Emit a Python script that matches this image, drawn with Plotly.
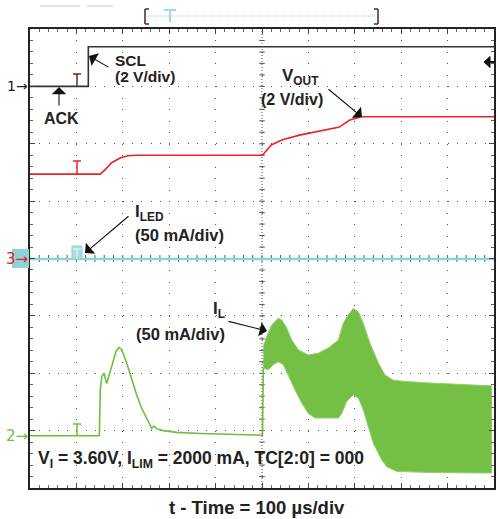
import plotly.graph_objects as go

# ---- data (time in µs, 100 µs/div; vertical in screen divisions) ----
scl_t = [0, 125.7, 125.7, 1000]
scl_v = [3.0, 3.0, 3.69, 3.69]

vout_t = [0, 151, 161, 176, 194, 211, 230, 501, 520, 544, 581, 617, 667, 688, 714, 1000]
vout_v = [1.47, 1.47, 1.54, 1.67, 1.75, 1.79, 1.80, 1.80, 1.98, 2.07, 2.15, 2.21, 2.29, 2.41, 2.47, 2.47]

iled_t = [0, 1000]
iled_v = [-0.01, -0.01]

il_t = [0, 149.4, 151.5, 154.5, 159.5, 165.3, 176.1, 185.3, 191.8, 197.6, 208.4, 219.2, 230.0,
        240.7, 251.5, 262.3, 267.2, 273.1, 287.3, 316.2, 366.4, 437.5, 501.1, 502.8]
il_v = [-3.09, -3.09, -2.29, -2.06, -2.00, -2.18, -1.88, -1.62, -1.55, -1.59, -1.82, -2.12, -2.38,
        -2.61, -2.78, -2.96, -2.92, -2.97, -3.00, -3.03, -3.05, -3.07, -3.08, -1.91]

band_hi_t = [502.8, 510.1, 520.9, 535.1, 542.5, 553.2, 564.0, 578.2, 599.8, 621.3, 642.9, 664.5, 675.2,
             686.0, 696.8, 707.6, 718.3, 732.8, 750.7, 765.1, 783.0, 804.5, 862.1, 933.9, 995.0]
band_hi_v = [-1.535, -1.36, -1.16, -1.04, -1.07, -1.21, -1.42, -1.59, -1.68, -1.65, -1.56, -1.42, -1.13,
             -0.98, -0.87, -0.93, -1.13, -1.48, -1.82, -2.03, -2.12, -2.14, -2.17, -2.20, -2.22]
band_lo_t = [502.8, 513.6, 524.4, 535.1, 545.9, 556.7, 571.1, 585.6, 599.8, 614.2, 635.8, 664.5, 671.8,
             682.6, 696.8, 707.6, 718.3, 729.1, 739.9, 758.0, 768.8, 790.3, 862.1, 933.9, 995.0]
band_lo_v = [-1.91, -1.94, -1.85, -1.80, -1.85, -2.03, -2.29, -2.52, -2.70, -2.78, -2.78, -2.78, -2.70,
             -2.49, -2.38, -2.43, -2.64, -2.93, -3.22, -3.51, -3.63, -3.71, -3.73, -3.74, -3.74]

# ---- layout helpers (pixel -> paper) ----
W, H = 498, 519
L, R, T, B = 30, 4, 29, 31
PW, PH = W - L - R, H - T - B


def PX(x):
    return (x - L) / PW


def PY(y):
    return 1 - (y - T) / PH


FONT = "Liberation Sans, Arial, sans-serif"
GREEN = "#6cbf3c"
RED = "#e8232b"
CYAN = "#8fd3d6"

fig = go.Figure()
fig.add_trace(go.Scatter(x=scl_t, y=scl_v, mode="lines", line=dict(color="#333333", width=1.6),
                         hoverinfo="skip"))
fig.add_trace(go.Scatter(x=vout_t, y=vout_v, mode="lines", line=dict(color=RED, width=1.6),
                         hoverinfo="skip"))
fig.add_trace(go.Scatter(x=iled_t, y=iled_v, mode="lines", line=dict(color=CYAN, width=2.5),
                         hoverinfo="skip"))
fig.add_trace(go.Scatter(x=band_hi_t + band_lo_t[::-1], y=band_hi_v + band_lo_v[::-1], mode="lines",
                         fill="toself", fillcolor="#74c045", line=dict(color="#93cf6c", width=1),
                         hoverinfo="skip"))
fig.add_trace(go.Scatter(x=il_t, y=il_v, mode="lines", line=dict(color=GREEN, width=1.6),
                         hoverinfo="skip"))

shapes = []
# center cross (dotted) with ticks
shapes.append(dict(type="line", xref="x", yref="y", x0=500, x1=500, y0=-4, y1=4,
                   line=dict(color="#555", width=1, dash="1px,2px"), layer="below"))
shapes.append(dict(type="line", xref="x", yref="y", x0=0, x1=1000, y0=0, y1=0,
                   line=dict(color="#555", width=1, dash="1px,2px"), layer="below"))
for k in range(1, 50):
    tx = k * 20
    shapes.append(dict(type="line", xref="x", yref="y", x0=tx, x1=tx, y0=-0.06, y1=0.06,
                       line=dict(color="#555", width=1), layer="below"))
for k in range(1, 40):
    ty = -4 + k * 0.2
    shapes.append(dict(type="line", xref="x", yref="y", x0=494, x1=506, y0=ty, y1=ty,
                       line=dict(color="#555", width=1), layer="below"))


def tmark(x, ytop, ybot, color, w=1.5):
    shapes.append(dict(type="line", xref="paper", yref="paper", x0=PX(x), x1=PX(x),
                       y0=PY(ytop), y1=PY(ybot), line=dict(color=color, width=w)))
    shapes.append(dict(type="line", xref="paper", yref="paper", x0=PX(x - 4), x1=PX(x + 4),
                       y0=PY(ytop), y1=PY(ytop), line=dict(color=color, width=w)))


tmark(77, 74, 86, "#6a2a2a")
tmark(77, 161, 174, RED)
tmark(77, 424, 436, GREEN)
# ILED trigger box
shapes.append(dict(type="rect", xref="paper", yref="paper", x0=PX(72), x1=PX(82), y0=PY(259), y1=PY(246),
                   fillcolor="#a8dde0", line=dict(color="#8fd0d3", width=1)))
tmark(77, 249, 258, "#e8f7f8", 1.2)

# channel 3 marker box
shapes.append(dict(type="rect", xref="paper", yref="paper", x0=PX(12), x1=PX(29), y0=PY(268), y1=PY(249),
                   fillcolor=CYAN, line=dict(width=0)))

# top bracket
shapes.append(dict(type="line", xref="paper", yref="paper", x0=PX(148), x1=PX(376), y0=PY(16), y1=PY(16),
                   line=dict(color="#8fd3d6", width=1.2, dash="1px,1px")))
for (xa, xb) in [(145, 149), (378, 374)]:
    shapes.append(dict(type="line", xref="paper", yref="paper", x0=PX(xa), x1=PX(xa), y0=PY(9), y1=PY(24),
                       line=dict(color="#333", width=1.5)))
    shapes.append(dict(type="line", xref="paper", yref="paper", x0=PX(xa), x1=PX(xb), y0=PY(9), y1=PY(9),
                       line=dict(color="#333", width=1.5)))
    shapes.append(dict(type="line", xref="paper", yref="paper", x0=PX(xa), x1=PX(xb), y0=PY(24), y1=PY(24),
                       line=dict(color="#333", width=1.5)))
    shapes.append(dict(type="line", xref="paper", yref="paper", x0=PX(xa), x1=PX(xa), y0=PY(20), y1=PY(24),
                       line=dict(color="#c0303a", width=1.5)))
shapes.append(dict(type="line", xref="paper", yref="paper", x0=PX(170), x1=PX(170), y0=PY(10), y1=PY(22),
                   line=dict(color="#9fdadd", width=2)))
shapes.append(dict(type="line", xref="paper", yref="paper", x0=PX(164), x1=PX(176), y0=PY(10), y1=PY(10),
                   line=dict(color="#9fdadd", width=2)))
# faint remnants at the top-left
for (xa, xb) in [(40, 80), (87, 113)]:
    shapes.append(dict(type="line", xref="paper", yref="paper", x0=PX(xa), x1=PX(xb), y0=PY(6), y1=PY(6),
                       line=dict(color="#e2e2e2", width=2)))

# right-side trigger level arrow
p = "M {} {} L {} {} L {} {} Z".format(PX(484), PY(62), PX(490), PY(56.5), PX(490), PY(67.5))
shapes.append(dict(type="path", xref="paper", yref="paper", path=p, fillcolor="#111",
                   line=dict(color="#111", width=1)))
shapes.append(dict(type="line", xref="paper", yref="paper", x0=PX(489), x1=PX(494), y0=PY(62), y1=PY(62),
                   line=dict(color="#111", width=2)))

ann = []


def txt(s, x, y, size=16, color="#222", anchor="left", weight="bold", family=FONT):
    ann.append(dict(text=s, x=PX(x), y=PY(y), xref="paper", yref="paper", showarrow=False,
                    xanchor=anchor, yanchor="middle",
                    font=dict(family=family, size=size, color=color, weight=weight)))


def arrow(xt, yt, xs, ys):
    ann.append(dict(text="", x=PX(xt), y=PY(yt), xref="paper", yref="paper", ax=xs - xt, ay=ys - yt,
                    showarrow=True, arrowhead=1, arrowsize=2.2, arrowwidth=1.1, arrowcolor="#111",
                    standoff=0, startstandoff=0))


txt("SCL", 113, 60, 15.5)
txt("(2 V/div)", 113, 76, 15.5)
txt("ACK", 42, 119, 16)
txt("V<sub>OUT</sub>", 280, 77, 17)
txt("(2 V/div)", 259, 99, 16)
txt("I<sub>LED</sub>", 133, 213, 17)
txt("(50 mA/div)", 133, 235, 16.5)
txt("I<sub>L</sub>", 211, 310, 17)
txt("(50 mA/div)", 134, 334, 16.5)
txt("V<sub>I</sub> = 3.60V, I<sub>LIM</sub> = 2000 mA, TC[2:0] = 000", 36, 459, 17.5)
txt("t - Time = 100 µs/div", 257, 507, 18.5, anchor="center")

txt("1→", 30, 86, 14, color="#222", anchor="right", weight="normal", family="DejaVu Sans")
txt("3→", 30, 259, 15, color="#e02020", anchor="right", weight="normal", family="DejaVu Sans")
txt("2→", 30, 436, 15, color=GREEN, anchor="right", weight="normal", family="DejaVu Sans")

arrow(89, 56, 110, 68)
arrow(59, 87, 59, 107)
arrow(362, 117, 327, 88)
arrow(85, 253, 130, 215)
arrow(267, 331, 227, 321)

fig.update_layout(
    width=W, height=H, margin=dict(l=L, r=R, t=T, b=B, pad=0, autoexpand=False),
    paper_bgcolor="white", plot_bgcolor="white", showlegend=False,
    shapes=shapes, annotations=ann,
)
fig.update_xaxes(range=[0, 1000], tick0=0, dtick=100, showgrid=True, gridcolor="#555", gridwidth=1,
                 griddash="1px,10.48px", zeroline=False, showline=True, linecolor="#222", linewidth=1.5,
                 mirror="ticks", ticks="inside", ticklen=5, tickcolor="#444", showticklabels=False,
                 minor=dict(dtick=20, tick0=0, ticks="inside", ticklen=3, tickcolor="#666", showgrid=False),
                 fixedrange=True)
fig.update_yaxes(range=[-4, 4], tick0=0, dtick=1, showgrid=True, gridcolor="#555", gridwidth=1,
                 griddash="1px,8.28px", zeroline=False, showline=True, linecolor="#222", linewidth=1.5,
                 mirror="ticks", ticks="inside", ticklen=5, tickcolor="#444", showticklabels=False,
                 minor=dict(dtick=0.2, tick0=0, ticks="inside", ticklen=3, tickcolor="#666", showgrid=False),
                 fixedrange=True)

fig.write_html("out.html", config={"displayModeBar": False},
               post_script="document.body.style.margin='0';document.body.style.overflow='hidden';")
